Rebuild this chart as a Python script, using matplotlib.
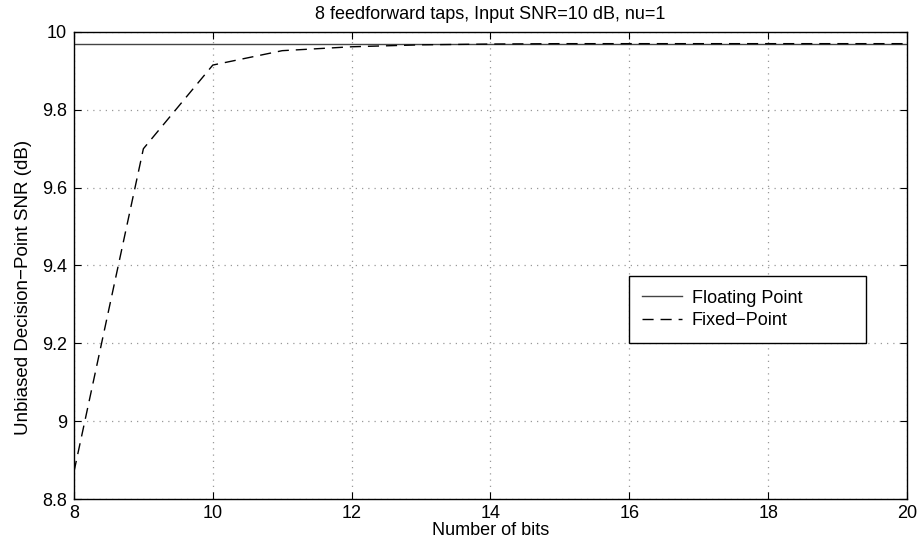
import numpy as np
import matplotlib
matplotlib.use('Agg')
import matplotlib.pyplot as plt

plt.rcParams['font.family'] = ['Liberation Sans', 'DejaVu Sans']

# word length sweep for the fixed-point equalizer
bits = [8, 9, 10, 11, 12, 13, 14, 15, 16, 17, 18, 19, 20]
snr_fixed = [8.87, 9.70, 9.915, 9.952, 9.962, 9.967, 9.969, 9.970, 9.970, 9.970, 9.970, 9.970, 9.970]
snr_float = 9.970

fig = plt.figure(figsize=(9.21, 5.44), dpi=100)
ax = fig.add_axes([0.0803, 0.0827, 0.9045, 0.8585])

ax.plot([bits[0], bits[-1]], [snr_float, snr_float], color='#444444', lw=1.0,
        label='Floating Point')
ax.plot(bits, snr_fixed, color='black', lw=1.0, dashes=(8, 5),
        label='Fixed\u2212Point')

ax.set_xlim(8, 20)
ax.set_ylim(8.8, 10)
ax.set_xticks([8, 10, 12, 14, 16, 18, 20])
ax.set_yticks([8.8, 9, 9.2, 9.4, 9.6, 9.8, 10])
ax.set_yticklabels(['8.8', '9', '9.2', '9.4', '9.6', '9.8', '10'])
ax.tick_params(direction='in', top=True, right=True, length=5, width=0.8,
               labelsize=13)
ax.tick_params(axis='x', pad=4)
ax.tick_params(axis='y', pad=5)
ax.grid(True, color='#999999', linestyle=(0, (1, 4)), lw=0.9)
for s in ax.spines.values():
    s.set_linewidth(1.0)

ax.set_title('8 feedforward taps, Input SNR=10 dB, nu=1', fontsize=13, pad=9)
ax.set_xlabel('Number of bits', fontsize=13, labelpad=0)
ax.set_ylabel('Unbiased Decision\u2212Point SNR (dB)', fontsize=13.5)
ax.yaxis.set_label_coords(-0.05, 0.454)

leg = ax.legend(loc='upper left', bbox_to_anchor=(0.666, 0.336, 0.285, 0.1415),
                mode='expand', borderaxespad=0, fontsize=13,
                fancybox=False, edgecolor='black', framealpha=1,
                handlelength=2.2, handletextpad=0.55, borderpad=0.75,
                labelspacing=0.3)
leg.get_frame().set_linewidth(1.0)

fig.savefig('out.png', dpi=100)
